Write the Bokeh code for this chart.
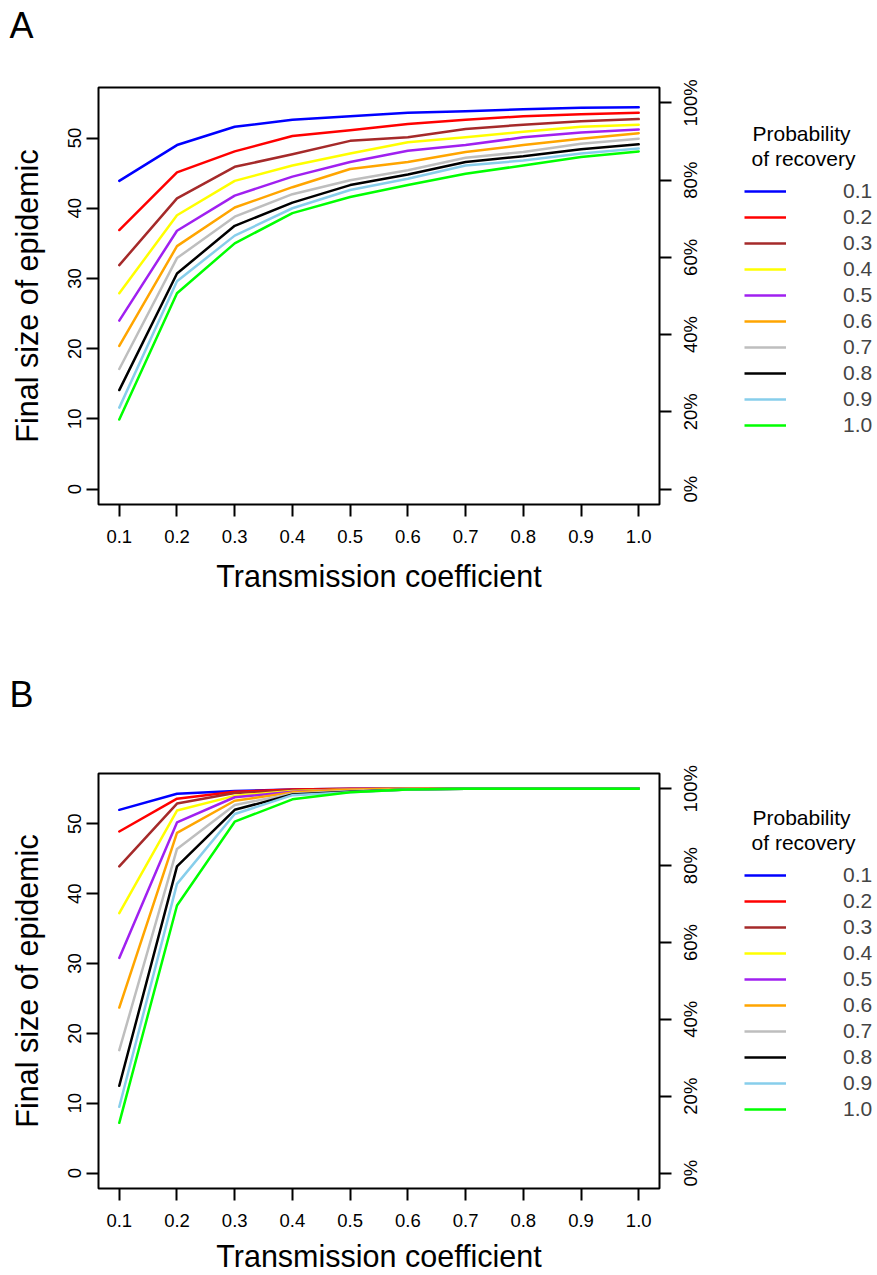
import math
from bokeh.plotting import figure
from bokeh.models import (Range1d, LinearAxis, FixedTicker, PrintfTickFormatter,
                          CustomJSTickFormatter, Legend, LegendItem, Label)
from bokeh.layouts import column, row
from bokeh.embed import file_html
from bokeh.resources import INLINE

# ---------------- data ----------------
transmission = [0.1, 0.2, 0.3, 0.4, 0.5, 0.6, 0.7, 0.8, 0.9, 1.0]
recovery_labels = ["0.1", "0.2", "0.3", "0.4", "0.5", "0.6", "0.7", "0.8", "0.9", "1.0"]
colors = ["#0000FF", "#FF0000", "#A52A2A", "#FFFF00", "#A020F0",
          "#FFA500", "#BEBEBE", "#000000", "#87CEEB", "#00FF00"]

# Panel A
a_01 = [43.9, 49.0, 51.6, 52.6, 53.1, 53.6, 53.8, 54.1, 54.3, 54.4]
a_02 = [36.9, 45.1, 48.1, 50.3, 51.1, 52.0, 52.6, 53.1, 53.4, 53.6]
a_03 = [31.9, 41.4, 45.9, 47.7, 49.6, 50.1, 51.3, 51.9, 52.4, 52.7]
a_04 = [27.9, 39.0, 43.9, 46.1, 47.8, 49.4, 50.1, 50.9, 51.6, 51.9]
a_05 = [24.0, 36.8, 41.8, 44.5, 46.6, 48.2, 49.0, 50.1, 50.8, 51.2]
a_06 = [20.4, 34.6, 40.1, 43.0, 45.6, 46.6, 48.0, 49.0, 49.9, 50.7]
a_07 = [17.1, 32.9, 38.8, 42.0, 44.0, 45.4, 47.2, 48.0, 49.2, 49.9]
a_08 = [14.1, 30.7, 37.5, 40.8, 43.3, 44.8, 46.6, 47.4, 48.4, 49.1]
a_09 = [11.6, 29.6, 36.1, 40.0, 42.6, 44.2, 46.1, 46.8, 47.8, 48.5]
a_10 = [9.9, 27.9, 35.0, 39.3, 41.6, 43.3, 44.9, 46.1, 47.3, 48.1]

# Panel B
b_01 = [52.0, 54.3, 54.7, 54.9, 55.0, 55.0, 55.0, 55.0, 55.0, 55.0]
b_02 = [48.9, 53.6, 54.6, 54.9, 55.0, 55.0, 55.0, 55.0, 55.0, 55.0]
b_03 = [43.9, 52.9, 54.4, 54.8, 54.9, 55.0, 55.0, 55.0, 55.0, 55.0]
b_04 = [37.2, 51.9, 54.0, 54.7, 54.9, 55.0, 55.0, 55.0, 55.0, 55.0]
b_05 = [30.8, 50.2, 53.8, 54.6, 54.9, 55.0, 55.0, 55.0, 55.0, 55.0]
b_06 = [23.7, 48.7, 53.3, 54.5, 54.9, 55.0, 55.0, 55.0, 55.0, 55.0]
b_07 = [17.6, 46.4, 52.7, 54.3, 54.7, 54.9, 55.0, 55.0, 55.0, 55.0]
b_08 = [12.5, 43.9, 52.0, 54.2, 54.6, 54.9, 55.0, 55.0, 55.0, 55.0]
b_09 = [9.5, 41.4, 51.4, 54.1, 54.5, 54.9, 55.0, 55.0, 55.0, 55.0]
b_10 = [7.2, 38.3, 50.3, 53.5, 54.5, 54.9, 55.0, 55.0, 55.0, 55.0]

population = 55
y_ticks = [0, 10, 20, 30, 40, 50]
pct_ticks = [0, 20, 40, 60, 80, 100]
pct_labels = ["0%", "20%", "40%", "60%", "80%", "100%"]
legend_title = ["Probability", "of recovery"]

FONT = "Liberation Sans"
TICK_PX = 18.5
TOTAL_W = 877
LEFT_B = 98
FRAME_W = 561
FRAME_H = 417
TOP_B = 29
MAIN_W = LEFT_B + FRAME_W + 69
LEG_W = TOTAL_W - MAIN_W
Y0, Y1 = -2.2, 57.2

# Liberation Sans advance widths (per 1000 em) for centring the rotated % labels
ADV = {"0": 556, "1": 556, "2": 556, "4": 556, "6": 556, "8": 556, "%": 889}


def blank_fig(w, h, top=0, bottom=0):
    f = figure(width=w, height=h, output_backend="svg", toolbar_location=None,
               x_axis_type=None, y_axis_type=None, title=None,
               x_range=Range1d(0, 1), y_range=Range1d(0, 1),
               min_border_left=0, min_border_right=0,
               min_border_top=top, min_border_bottom=bottom)
    f.outline_line_color = None
    f.xgrid.visible = False
    f.ygrid.visible = False
    f.background_fill_color = "white"
    f.border_fill_color = "white"
    return f


def style_axis(ax):
    ax.axis_line_color = None
    ax.major_tick_line_color = "black"
    ax.major_tick_line_width = 2
    ax.major_tick_in = 0
    ax.major_tick_out = 12
    ax.minor_tick_line_color = None
    ax.major_label_text_font = FONT
    ax.major_label_text_font_size = f"{TICK_PX}px"
    ax.major_label_text_color = "black"
    ax.axis_label_text_font = FONT
    ax.axis_label_text_font_size = "30.5px"
    ax.axis_label_text_font_style = "normal"
    ax.axis_label_text_color = "black"


def make_panel(letter, series, strip_h, letter_base, main_h, xl_standoff, xt_standoff):
    bottom = main_h - TOP_B - FRAME_H
    # strip carrying the panel letter
    strip = blank_fig(TOTAL_W, strip_h)
    strip.add_layout(Label(x=9, y=strip_h - letter_base, x_units="screen", y_units="screen",
                           text=letter, text_align="left", text_baseline="alphabetic",
                           text_font=FONT, text_font_size="36px", text_color="black"))

    p = figure(width=MAIN_W, height=main_h, output_backend="svg", toolbar_location=None,
               x_range=Range1d(0.064, 1.036), y_range=Range1d(Y0, Y1),
               min_border_left=LEFT_B, min_border_right=MAIN_W - LEFT_B - FRAME_W,
               min_border_top=TOP_B, min_border_bottom=bottom)
    p.background_fill_color = "white"
    p.border_fill_color = "white"
    p.xgrid.visible = False
    p.ygrid.visible = False
    p.outline_line_color = "black"
    p.outline_line_width = 2

    pct_lo, pct_hi = Y0 / population * 100, Y1 / population * 100
    p.extra_y_ranges = {"pct": Range1d(pct_lo, pct_hi)}

    # right axis 1: tick marks only
    right_ticks = LinearAxis(y_range_name="pct")
    style_axis(right_ticks)
    right_ticks.ticker = FixedTicker(ticks=pct_ticks)
    right_ticks.formatter = CustomJSTickFormatter(code="return '';")
    right_ticks.major_label_text_font_size = "1px"
    right_ticks.major_label_standoff = 0
    p.add_layout(right_ticks, "right")

    # right axis 2: rotated labels, centred on the ticks
    px_per_unit = FRAME_H / (pct_hi - pct_lo)
    half_len = [sum(ADV[ch] for ch in s) / 1000 * TICK_PX / 2 / px_per_unit for s in pct_labels]
    label_pos = [t - h for t, h in zip(pct_ticks, half_len)]
    right_labels = LinearAxis(y_range_name="pct")
    style_axis(right_labels)
    right_labels.ticker = FixedTicker(ticks=label_pos)
    right_labels.formatter = CustomJSTickFormatter(args=dict(labels=pct_labels),
                                                   code="return labels[index];")
    right_labels.major_tick_out = 0
    right_labels.major_tick_line_color = None
    right_labels.major_label_orientation = math.pi / 2
    right_labels.major_label_standoff = 19
    p.add_layout(right_labels, "right")

    xa, ya = p.xaxis[0], p.yaxis[0]
    style_axis(xa)
    style_axis(ya)
    xa.ticker = FixedTicker(ticks=transmission)
    xa.formatter = PrintfTickFormatter(format="%.1f")
    xa.major_label_standoff = xl_standoff
    xa.axis_label = "Transmission coefficient"
    xa.axis_label_standoff = xt_standoff

    ya.ticker = FixedTicker(ticks=y_ticks)
    ya.major_label_orientation = "vertical"
    ya.major_label_standoff = 5
    ya.axis_label = "Final size of epidemic"
    ya.axis_label_standoff = 22

    for ys, c in zip(series, colors):
        p.line(transmission, ys, line_color=c, line_width=2.5,
               line_join="round", line_cap="round")

    # legend panel: its frame lines up with the main frame; the same curves are
    # drawn there outside its view and serve as legend entries
    leg = blank_fig(LEG_W, main_h, top=TOP_B, bottom=bottom)
    leg.x_range = Range1d(5, 6)
    leg.y_range = Range1d(Y0, Y1)
    items = []
    for ys, c, lab in zip(series, colors, recovery_labels):
        r = leg.line(transmission, ys, line_color=c, line_width=2.5)
        items.append(LegendItem(label=lab, renderers=[r]))
    item_h = 26
    first_center = 104          # from frame top
    leg_top = first_center - item_h / 2
    leg_h = item_h * len(items)
    legend = Legend(items=items, location=(16, FRAME_H - leg_top - leg_h),
                    glyph_width=42, glyph_height=item_h, label_height=item_h,
                    spacing=0, padding=0, margin=0, label_standoff=57,
                    label_text_font=FONT, label_text_font_size="21px",
                    border_line_color=None, background_fill_alpha=0)
    leg.add_layout(legend, "center")
    for txt, cx, cy in [(legend_title[0], 73, 46), (legend_title[1], 75, 71)]:
        leg.add_layout(Label(x=cx, y=FRAME_H - cy, x_units="screen", y_units="screen",
                             text=txt, text_align="center", text_baseline="middle",
                             text_font=FONT, text_font_size="21px", text_color="black"))

    return column(strip, row(p, leg, spacing=0), spacing=0)


series_a = [a_01, a_02, a_03, a_04, a_05, a_06, a_07, a_08, a_09, a_10]
series_b = [b_01, b_02, b_03, b_04, b_05, b_06, b_07, b_08, b_09, b_10]

panel_a = make_panel("A", series_a, 58, 25, 610, 13, 13)
panel_b = make_panel("B", series_b, 76, 26, 531, 13, 9)

layout = column(panel_a, panel_b, spacing=0)
open("out.html", "w").write(file_html(layout, INLINE))
